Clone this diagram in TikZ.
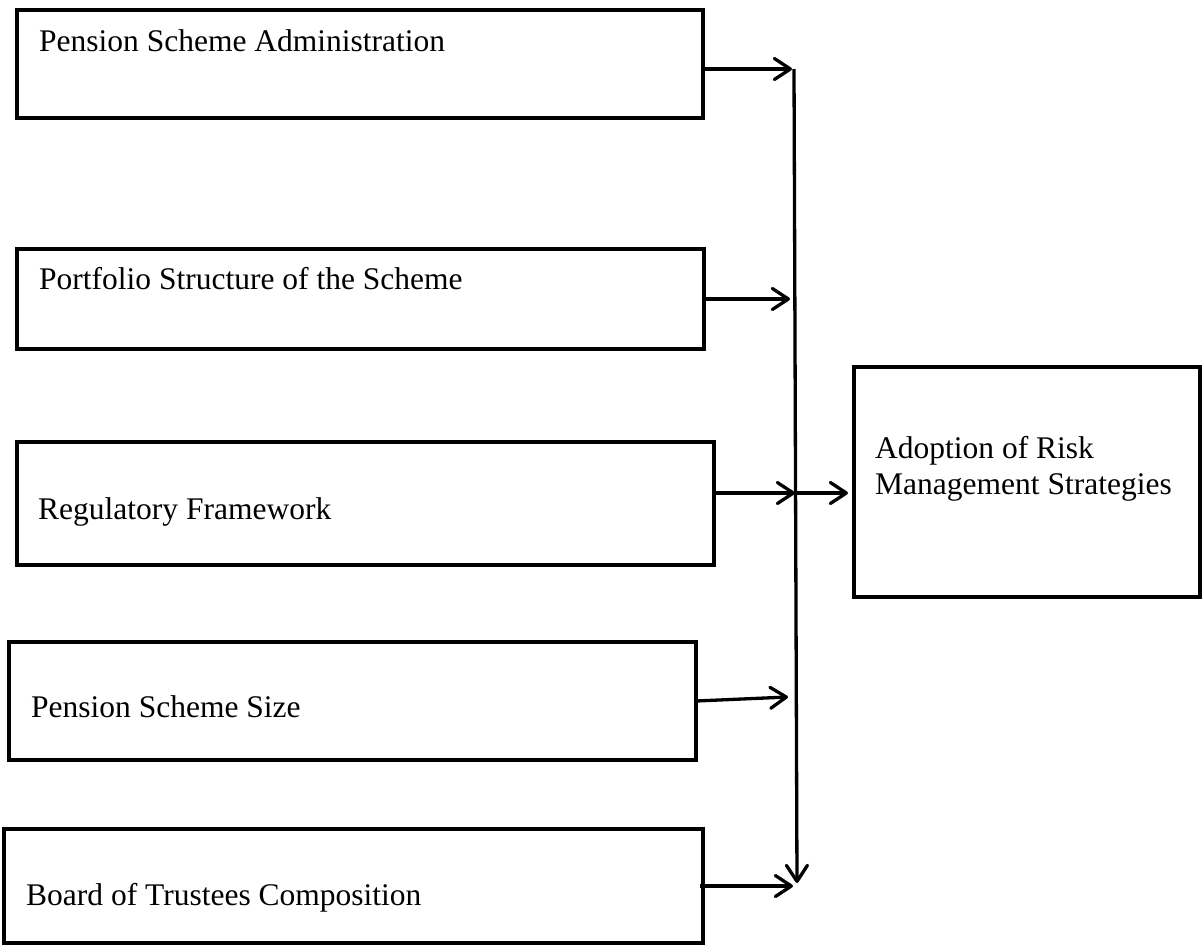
\documentclass[tikz,border=0pt]{standalone}
\usepackage{fontspec}
\setmainfont{Liberation Serif}
\usetikzlibrary{arrows.meta}
\begin{document}
\begin{tikzpicture}[x=1pt,y=-1pt,
  box/.style={draw, line width=3.3pt, rectangle, inner sep=0pt, outer sep=0pt},
  lbl/.style={anchor=base west, inner sep=0pt, font=\fontsize{31.5}{36}\selectfont},
  arr/.style={line width=3.3pt, -{Straight Barb[length=16pt,width=21pt,round]}},
  ln/.style={line width=3.3pt}]
\useasboundingbox (0,0) rectangle (1202,946);
% boxes
\node[box, minimum width=686pt, minimum height=108pt] (b1) at (360,64) {};
\node[box, minimum width=687pt, minimum height=100pt] (b2) at (360.5,299) {};
\node[box, minimum width=697pt, minimum height=123pt] (b3) at (365.5,503.5) {};
\node[box, minimum width=687pt, minimum height=118pt] (b4) at (352.5,701) {};
\node[box, minimum width=699pt, minimum height=114pt] (b5) at (353.5,886) {};
\node[box, minimum width=346pt, minimum height=230pt] (r) at (1027,482) {};
% texts
\node[lbl] (t1) at (39,51) {Pension Scheme Administration};
\node[lbl] (t2) at (39,289) {Portfolio Structure of the Scheme};
\node[lbl] (t3) at (38,519) {Regulatory Framework};
\node[lbl] (t4) at (31,717) {Pension Scheme Size};
\node[lbl] (t5) at (26,905) {Board of Trustees Composition};
\node[lbl, align=left, anchor=base west] (t6) at (875,494) {Adoption of Risk\\Management Strategies};
% bus
\coordinate (top) at (794,69);
\coordinate (bot) at (797,883);
\coordinate (e1) at (792,69);
\coordinate (e2) at (790,299);
\coordinate (e3) at (795,493);
\coordinate (e4) at (788,697);
\coordinate (e5) at (793,886);
\draw[arr] (top) -- (bot);
\draw[arr] ([yshift=-5pt]b1.east) -- (e1);
\draw[arr] (b2.east) -- (e2);
\draw[arr] ([xshift=-2pt]b3.east |- e3) -- (e3);
\draw[arr] (e3) -- ([xshift=-6pt]r.west |- e3);
\draw[arr] (b4.east) -- (e4);
\draw[arr] ([xshift=-3pt]b5.east) -- (e5);
\end{tikzpicture}
\end{document}
